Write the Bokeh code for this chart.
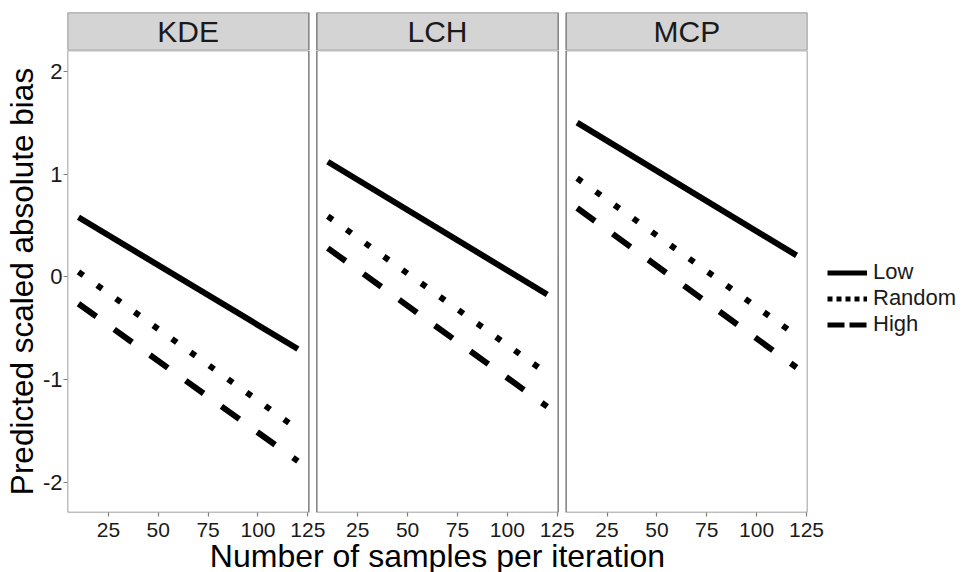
from bokeh.plotting import figure
from bokeh.models import Range1d, FixedTicker, BoxAnnotation, Label, Legend, LegendItem
from bokeh.layouts import column
from bokeh.embed import file_html
from bokeh.resources import INLINE

# ---- data ----
facets = ["KDE", "LCH", "MCP"]
samples = [10, 120]
low = {"KDE": [0.58, -0.70], "LCH": [1.12, -0.17], "MCP": [1.50, 0.21]}
random_ = {"KDE": [0.05, -1.48], "LCH": [0.59, -0.94], "MCP": [0.96, -0.57]}
high = {"KDE": [-0.26, -1.79], "LCH": [0.28, -1.26], "MCP": [0.67, -0.88]}
levels = ["Low", "Random", "High"]
x_ticks = [25, 50, 75, 100, 125]
y_ticks = [-2, -1, 0, 1, 2]

# ---- styles / layout constants ----
series = [("Low", low, "solid", "solid"),
          ("Random", random_, "6 17", "5 4"),
          ("High", high, "22 22", "17 5")]
FONT = "Liberation Sans"
X0, X1 = 4.5, 125.5          # panel x limits
PERIOD = 125                 # facet spacing in x units (panel + gap)
FULL = (X1 - X0) * 3 + (PERIOD - (X1 - X0)) * 2
FW, FH = 740, 462
ML, MR = 59, 151
BORDER = "#7f7f7f"

ranges = {f"p{k}": Range1d(X0 - k * PERIOD, X0 - k * PERIOD + FULL) for k in range(3)}
main_x = Range1d(X0, X0 + FULL)
main_y = Range1d(-2.289, 2.201)

# ---- strip figure ----
s = figure(frame_width=FW, frame_height=38, x_range=main_x, y_range=Range1d(0, 1),
           x_axis_type=None, y_axis_type=None, output_backend="svg", toolbar_location=None,
           min_border_left=ML, min_border_right=MR, min_border_top=12, min_border_bottom=0)
s.extra_x_ranges = ranges
s.outline_line_color = None
s.border_fill_color = "white"
for k, name in enumerate(facets):
    s.add_layout(BoxAnnotation(left=X0, right=X1, x_range_name=f"p{k}",
                               fill_color="#d4d4d4", fill_alpha=1,
                               line_color=BORDER, line_alpha=1, line_width=1.5))
    s.add_layout(Label(x=(X0 + X1) / 2, y=0.5, x_range_name=f"p{k}", text=name,
                       text_align="center", text_baseline="middle",
                       text_font=FONT, text_font_size="30px", text_color="#1a1a1a"))

# ---- main figure ----
p = figure(frame_width=FW, frame_height=FH, x_range=main_x, y_range=main_y,
           output_backend="svg", toolbar_location=None,
           min_border_left=ML, min_border_right=MR, min_border_top=0, min_border_bottom=0)
p.extra_x_ranges = ranges
p.outline_line_color = None
p.xgrid.visible = False
p.ygrid.visible = False
p.background_fill_color = "white"

for k, name in enumerate(facets):
    p.add_layout(BoxAnnotation(left=X0, right=X1, x_range_name=f"p{k}",
                               fill_alpha=0, line_color=BORDER, line_alpha=1, line_width=1.5))
    for label, data, dash, _ in series:
        p.line(samples, data[name], x_range_name=f"p{k}", line_color="black",
               line_width=6, line_dash=dash, line_cap="butt")

# legend keys (ggplot draws its key patterns shorter than in the panels);
# one-point lines draw nothing in the panel but give the legend its glyph
items = []
for label, data, _, key_dash in series:
    r = p.line(samples[:1], data[facets[0]][:1], line_color="black", line_width=5,
               line_dash=key_dash, line_cap="butt")
    items.append(LegendItem(label=label, renderers=[r]))

# axes
tick_pos, overrides = [], {}
for k in range(3):
    for t in x_ticks:
        tick_pos.append(t + k * PERIOD)
        overrides[t + k * PERIOD] = str(t)
xa = p.xaxis[0]
xa.ticker = FixedTicker(ticks=tick_pos)
xa.major_label_overrides = overrides
ya = p.yaxis[0]
ya.ticker = FixedTicker(ticks=y_ticks)
ya.major_label_overrides = {t: str(t) for t in y_ticks}
for ax in (xa, ya):
    ax.axis_line_color = None
    ax.major_tick_line_color = BORDER
    ax.major_tick_line_width = 1.2
    ax.major_tick_in = 0
    ax.major_tick_out = 4
    ax.minor_tick_line_color = None
    ax.major_label_text_font = FONT
    ax.major_label_text_font_size = "22px"
    ax.major_label_text_color = "#1a1a1a"
    ax.axis_label_text_font = FONT
    ax.axis_label_text_font_style = "normal"
    ax.axis_label_text_color = "#000000"
    ax.axis_label_text_font_size = "31.5px"
    ax.major_label_standoff = 1
    ax.axis_label_standoff = 0
xa.axis_label = "Number of samples per iteration"
ya.axis_label = "Predicted scaled absolute bias"
xa.axis_label_text_font_size = "32px"
xa.major_label_text_font_size = "21px"
xa.major_label_standoff = 6
xa.axis_label_standoff = -2

legend = Legend(items=items, location=(20, 175), orientation="vertical",
                glyph_width=40, glyph_height=23, label_height=23, spacing=0,
                padding=0, margin=0, label_standoff=6,
                label_text_font=FONT, label_text_font_size="22px", label_text_color="#1a1a1a",
                border_line_color=None, background_fill_alpha=0)
p.add_layout(legend, "right")

layout = column(s, p, spacing=0)
open("out.html", "w").write(file_html(layout, INLINE))
